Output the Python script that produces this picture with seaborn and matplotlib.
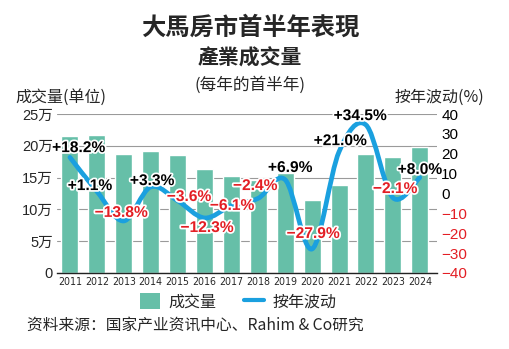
import numpy as np
import pandas as pd
import matplotlib
matplotlib.use("Agg")
import matplotlib.pyplot as plt
import seaborn as sns
from matplotlib.path import Path
from matplotlib.patches import PathPatch, Patch
from matplotlib.lines import Line2D
import matplotlib.patheffects as pe

years = ["2011", "2012", "2013", "2014", "2015", "2016", "2017",
         "2018", "2019", "2020", "2021", "2022", "2023", "2024"]
volume_wan = [21.5, 21.7, 18.7, 19.2, 18.5, 16.3, 15.2,
              14.7, 15.7, 11.4, 13.8, 18.7, 18.3, 19.8]
yoy_pct = [18.2, 1.1, -13.8, 3.3, -3.6, -12.3, -6.1,
           -2.4, 6.9, -27.9, 21.0, 34.5, -2.1, 8.0]
left_ticks = [0, 5, 10, 15, 20, 25]
left_ticklabels = ["0", "5万", "10万", "15万", "20万", "25万"]
right_ticks = [-40, -30, -20, -10, 0, 10, 20, 30, 40]

# label offsets (layout only): (dx in category units, dy in % units)
label_offsets = [(0.32, 4.9), (-0.26, 2.9), (-0.1, 4.3), (0.05, 3.2),
                 (0.42, 2.1), (0.09, -4.8), (0.02, 0.1), (-0.12, 6.4),
                 (0.18, 6.2), (0.03, 7.8), (0.04, 5.6), (-0.22, 4.7),
                 (0.08, 4.6), (0.0, 4.1)]

BAR = "#66bfa8"
LINE = "#1aa0df"
RED = "#e31e24"

sns.set_theme(style="white")
plt.rcParams["font.family"] = ["Noto Sans CJK TC", "DejaVu Sans"]

fig = plt.figure(figsize=(5.09, 3.49), dpi=100)
ax = fig.add_axes([57 / 509, 1 - 273 / 349, 380 / 509, 159 / 349])

df = pd.DataFrame({"year": years, "volume": volume_wan, "yoy": yoy_pct})
sns.barplot(data=df, x="year", y="volume", color=BAR, saturation=1,
            width=0.63, ax=ax, zorder=2)
ax.set_xlim(-0.48, 13.64)
ax.set_ylim(0, 25)
ax.set_yticks(left_ticks)
ax.set_yticklabels(left_ticklabels, fontsize=10.5)
ax.yaxis.grid(True, color="#9a9a9a", linewidth=0.8, zorder=0)
ax.set_axisbelow(True)
ax.set_xlabel("")
ax.set_ylabel("")
for s in ["top", "right", "left"]:
    ax.spines[s].set_visible(False)
ax.spines["bottom"].set_color("#222222")
ax.spines["bottom"].set_linewidth(1.0)
ax.tick_params(axis="both", length=0, pad=3)
for t in ax.get_xticklabels():
    t.set_fontfamily(["DejaVu Sans"])
    t.set_fontstretch("condensed")
    t.set_fontsize(7.6)
for t in ax.get_yticklabels():
    t.set_fontfamily(["Liberation Sans", "Noto Sans CJK SC"])

ax2 = ax.twinx()
ax2.set_ylim(-40, 40)
ax2.set_yticks(right_ticks)
ax2.set_yticklabels([str(v).replace("-", "\u2212") for v in right_ticks],
                    fontsize=11, fontfamily=["Liberation Sans", "DejaVu Sans"])
for t, v in zip(ax2.get_yticklabels(), right_ticks):
    t.set_color(RED if v < 0 else "black")
ax2.tick_params(axis="y", length=0, pad=3)
for s in ax2.spines.values():
    s.set_visible(False)
ax2.grid(False)

# smooth curve through data points (Catmull-Rom as cubic Bezier path)
xs = np.arange(len(yoy_pct), dtype=float)
ys = np.array(yoy_pct, dtype=float)
P = np.column_stack([xs, ys])
verts = [P[0]]
codes = [Path.MOVETO]
n = len(P)
for i in range(n - 1):
    p0 = P[i - 1] if i > 0 else P[i]
    p1 = P[i]
    p2 = P[i + 1]
    p3 = P[i + 2] if i + 2 < n else P[i + 1]
    c1 = p1 + (p2 - p0) / 6.0
    c2 = p2 - (p3 - p1) / 6.0
    verts += [c1, c2, p2]
    codes += [Path.CURVE4] * 3
patch = PathPatch(Path(verts, codes), facecolor="none", edgecolor=LINE,
                  linewidth=3.4, capstyle="round", joinstyle="round", zorder=3)
ax2.add_patch(patch)

for i, (v, (dx, dy)) in enumerate(zip(yoy_pct, label_offsets)):
    txt = ("+" if v > 0 else "\u2212") + f"{abs(v):.1f}%"
    ax2.text(i + dx, v + dy, txt, ha="center", va="center", fontsize=11.2,
             fontweight="bold", color=("black" if v > 0 else RED),
             fontfamily=["Liberation Sans", "DejaVu Sans"], zorder=5,
             path_effects=[pe.withStroke(linewidth=2.5, foreground="white")])

fig.text(250 / 509, 1 - 28 / 349, "大馬房市首半年表現", ha="center", va="center",
         fontsize=17.5, fontweight="black")
fig.text(250 / 509, 1 - 58 / 349, "產業成交量", ha="center", va="center",
         fontsize=15, fontweight="black")
fig.text(250 / 509, 1 - 85 / 349, "(每年的首半年)", ha="center", va="center",
         fontsize=12)
fig.text(15 / 509, 1 - 97 / 349, "成交量(单位)", ha="left", va="center",
         fontsize=11.5)
fig.text(484 / 509, 1 - 97 / 349, "按年波动(%)", ha="right", va="center",
         fontsize=11.5)

handles = [Patch(facecolor=BAR, edgecolor="none"),
           Line2D([0], [0], color=LINE, linewidth=3)]
fig.legend(handles, ["成交量", "按年波动"], loc="center",
           bbox_to_anchor=(238 / 509, 1 - 302 / 349), ncol=2, frameon=False,
           fontsize=11.5, handlelength=1.3, handleheight=1.1, columnspacing=1.7,
           handletextpad=0.5, borderpad=0)

fig.text(27 / 509, 1 - 326 / 349, "资料来源：国家产业资讯中心、Rahim & Co研究",
         ha="left", va="center", fontsize=11.3,
         fontfamily=["Noto Sans CJK SC", "DejaVu Sans"])

fig.savefig("out.png", dpi=100)
